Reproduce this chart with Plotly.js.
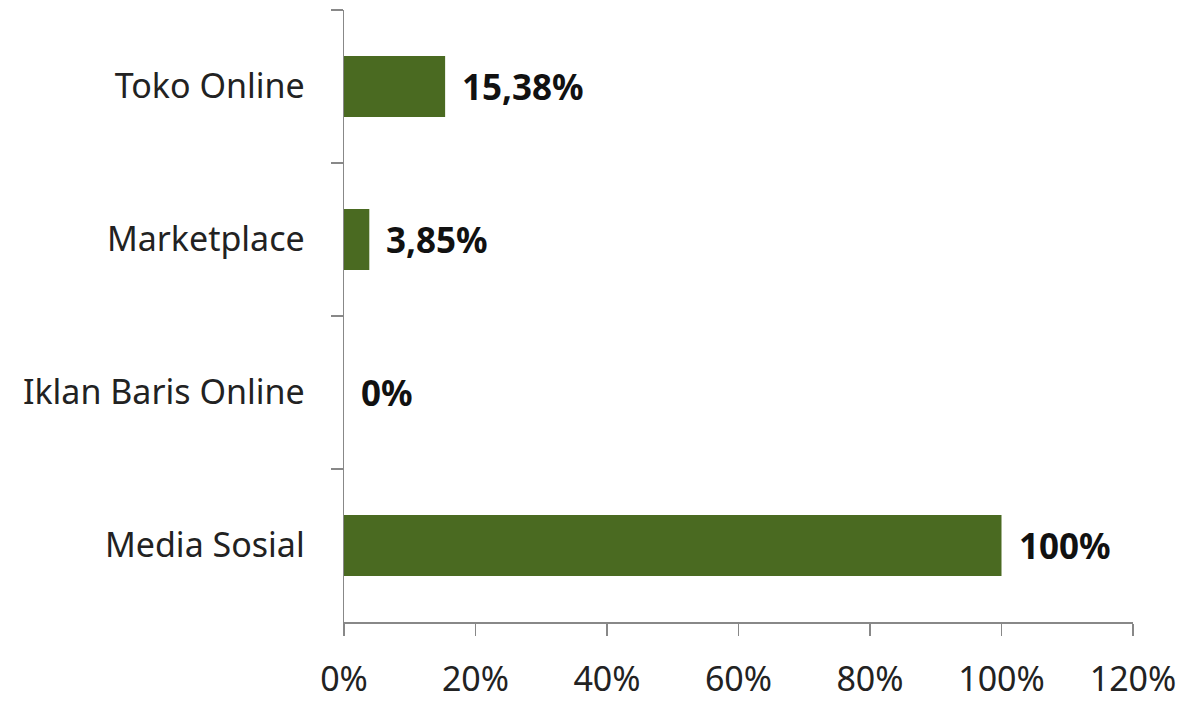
<!DOCTYPE html>
<html>
<head>
<meta charset="utf-8">
<script src="https://cdn.plot.ly/plotly-3.0.1.min.js"></script>
<style>html,body{margin:0;padding:0;background:#fff;}#chart{width:1191px;height:704px;}</style>
</head>
<body>
<div id="chart"></div>
<script>
const categories = ['Toko Online', 'Marketplace', 'Iklan Baris Online', 'Media Sosial'];
const values = [15.38, 3.85, 0, 100];
const valueLabels = ['15,38%', '3,85%', '0%', '100%'];
const xTicks = [0, 20, 40, 60, 80, 100, 120];
const xTickLabels = ['0%', '20%', '40%', '60%', '80%', '100%', '120%'];

const FONT = '"Noto Sans", "Open Sans", sans-serif';

const trace = {
  type: 'bar',
  orientation: 'h',
  x: values,
  y: categories,
  marker: { color: '#4a6a21', line: { width: 0 } },
  hoverinfo: 'skip'
};

const annotations = categories.map((c, i) => ({
  x: values[i], y: c, xref: 'x', yref: 'y',
  text: '<b>' + valueLabels[i] + '</b>',
  showarrow: false, xanchor: 'left', yanchor: 'middle',
  xshift: 15,
  font: { family: FONT, size: 35, color: '#111' }
}));

const layout = {
  width: 1191, height: 704,
  margin: { l: 344, r: 58, t: 10, b: 82 },
  paper_bgcolor: '#fff', plot_bgcolor: '#fff',
  showlegend: false,
  bargap: 0.6,
  font: { family: FONT, color: '#222' },
  xaxis: {
    range: [0, 120],
    tickvals: xTicks, ticktext: xTickLabels,
    ticks: 'outside', ticklen: 12, tickwidth: 1.5, tickcolor: '#888',
    showline: true, linecolor: '#888', linewidth: 1.5,
    showgrid: false, zeroline: false,
    tickfont: { family: FONT, size: 34, color: '#222' },
    ticklabelstandoff: 15,
    fixedrange: true
  },
  yaxis: {
    type: 'category',
    categoryorder: 'array', categoryarray: categories,
    autorange: 'reversed',
    tickson: 'boundaries',
    ticks: 'outside', ticklen: 12, tickwidth: 1.5, tickcolor: '#888',
    showline: true, linecolor: '#888', linewidth: 1.5,
    showgrid: false, zeroline: false,
    tickfont: { family: FONT, size: 34, color: '#222' },
    ticklabelstandoff: 31,
    fixedrange: true
  },
  annotations: annotations
};

Plotly.newPlot('chart', [trace], layout, { displayModeBar: false, staticPlot: true });
</script>
</body>
</html>
